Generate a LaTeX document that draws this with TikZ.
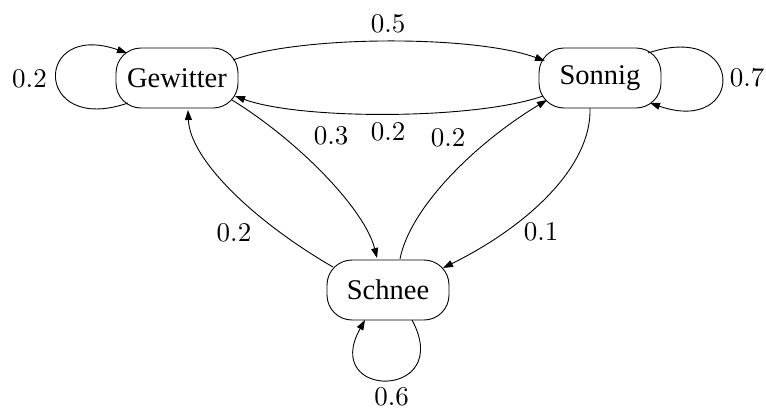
\documentclass[tikz,border=0pt]{standalone}
\usepackage{graphicx}
\usepackage{fontspec}
\newfontfamily\nodefont{Liberation Serif}
\usetikzlibrary{arrows.meta,calc}
\newcommand{\lbltext}[1]{\scalebox{2.7}{\fontsize{10}{12}\selectfont #1}}
\begin{document}
\begin{tikzpicture}[x=1pt,y=-1pt,
  state/.style={draw, line width=0.9pt, rounded corners=25pt, minimum width=122pt, minimum height=60pt, inner sep=0pt, font=\nodefont\fontsize{28.5}{32}\selectfont},
  edge/.style={draw, line width=0.9pt, -{Triangle[length=10pt,width=7pt]}},
  lbl/.style={inner sep=0pt}]
\useasboundingbox (0,0) rectangle (766,410);

\node[state] (gew) at (177,78) {Gewitter};
\node[state] (son) at (600,78) {Sonnig};
\node[state] (sch) at (388,290) {Schnee};

% Gewitter -> Sonnig
\draw[edge] ($(gew)+(56,-18)$) .. controls (300,35) and (475,35) .. ($(son)+(-55,-17)$);
% Sonnig -> Gewitter
\draw[edge] ($(son)+(-57,18)$) .. controls (475,120) and (300,120) .. ($(gew)+(58,18)$);
% loops
\draw[edge] ($(gew)+(-49,25)$) .. controls (33,136) and (33,20) .. ($(gew)+(-50,-25)$);
\draw[edge] ($(son)+(48,-25)$) .. controls (746,20) and (746,136) .. ($(son)+(50,25)$);
\draw[edge] ($(sch)+(24,30)$) .. controls (455,400) and (320,400) .. ($(sch)+(-23,30)$);
% Schnee -> Gewitter
\draw[edge] ($(sch)+(-55,-23)$) .. controls (255,222) and (190,160) .. ($(gew)+(11,32)$);
% Gewitter -> Schnee
\draw[edge] ($(gew)+(55,22)$) .. controls (300,142) and (365,210) .. ($(sch)+(-11,-32)$);
% Schnee -> Sonnig
\draw[edge] ($(sch)+(12,-31)$) .. controls (410,207) and (477,142) .. ($(son)+(-53,22)$);
% Sonnig -> Schnee
\draw[edge] ($(son)+(-10,30)$) .. controls (592,165) and (530,225) .. ($(sch)+(55,-22)$);

% labels
\node[lbl] (l1) at (388,24) {\lbltext{0.5}};
\node[lbl] (l2) at (388,132) {\lbltext{0.2}};
\node[lbl] (l3) at (29.5,79) {\lbltext{0.2}};
\node[lbl] (l4) at (747,78) {\lbltext{0.7}};
\node[lbl] (l5) at (391.5,397) {\lbltext{0.6}};
\node[lbl] (l6) at (234,233) {\lbltext{0.2}};
\node[lbl] (l7) at (331,136) {\lbltext{0.3}};
\node[lbl] (l8) at (448,138) {\lbltext{0.2}};
\node[lbl] (l9) at (541,232) {\lbltext{0.1}};
\end{tikzpicture}
\end{document}
